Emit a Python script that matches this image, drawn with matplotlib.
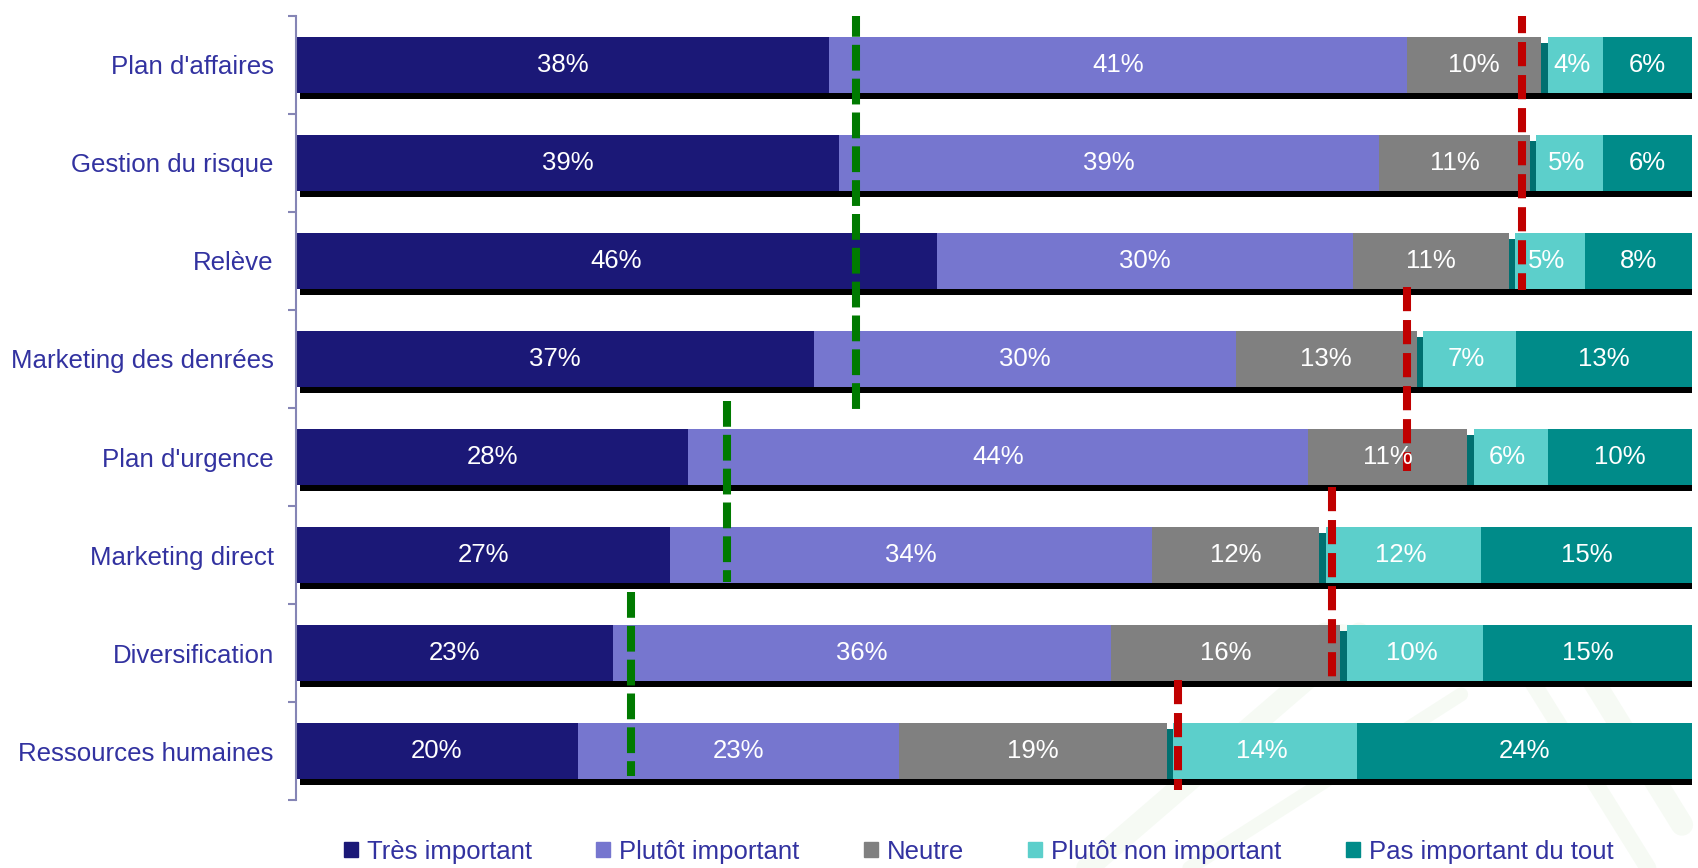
import numpy as np
import matplotlib
matplotlib.use('Agg')
import matplotlib.pyplot as plt
import matplotlib.transforms as mtransforms
from matplotlib.patches import Patch

plt.rcParams['font.family'] = ['Liberation Sans', 'DejaVu Sans']

categories = ["Plan d'affaires", "Gestion du risque", "Relève", "Marketing des denrées",
              "Plan d'urgence", "Marketing direct", "Diversification", "Ressources humaines"]
series = ["Très important", "Plutôt important", "Neutre", "Plutôt non important",
          "Pas important du tout"]

tres = [38.2, 38.9, 45.9, 37.1, 28.1, 26.8, 22.7, 20.2]
plutot = [41.4, 38.7, 29.8, 30.2, 44.4, 34.5, 35.7, 23.0]
neutre = [9.6, 10.8, 11.2, 13.0, 11.4, 12.0, 16.4, 19.2]
non_imp = [4.4, 5.2, 5.4, 7.1, 5.8, 11.6, 10.2, 13.6]
pas_imp = [6.4, 6.4, 7.7, 12.6, 10.3, 15.1, 15.0, 24.0]

# reference lines: x position and vertical span (in row units)
green_x = [40.1, 30.9, 24.0]
green_span = [(-0.55, 3.51), (3.43, 5.28), (5.38, 7.25)]
red_x = [87.8, 79.6, 74.2, 63.2]
red_span = [(-0.57, 2.30), (2.27, 4.14), (4.31, 6.24), (6.28, 7.40)]

colors = ['#1b1877', '#7676cf', '#808080', '#5ccfcb', '#008b89']
txt_blue = '#3232a0'

vals = np.array([tres, plutot, neutre, non_imp, pas_imp])
y = np.arange(len(categories))
h = 0.57

fig = plt.figure(figsize=(16.99, 8.68), dpi=100)

# faint logo in the background, bottom right
for xs, ys, lw in [([0.64, 0.80], [0.0, 0.27], 16), ([0.78, 0.93, 0.99], [0.27, 0.24, 0.05], 16),
                   ([0.70, 0.86], [0.0, 0.20], 10), ([0.90, 0.97], [0.22, 0.0], 12)]:
    fig.add_artist(plt.Line2D(xs, ys, transform=fig.transFigure, color='#9ccf8a',
                              alpha=0.09, lw=lw, solid_capstyle='round', zorder=0))

ax = fig.add_axes([0.1742, 0.0783, 0.8217, 0.9033])

# drop shadow behind each bar
shadow = mtransforms.offset_copy(ax.transData, fig=fig, x=4, y=-6, units='dots')
ax.barh(y, vals.sum(axis=0), height=h, color='black', transform=shadow, zorder=1)

left = np.zeros(len(categories))
for i, (name, c) in enumerate(zip(series, colors)):
    w = vals[i]
    if i == 3:
        # thin dark edge in front of the "plutôt non important" block
        ax.barh(y + 0.03, np.full(len(y), 0.45), left=left, height=h - 0.06,
                color='#007070', zorder=2)
        ax.barh(y, w - 0.45, left=left + 0.45, height=h, color=c, zorder=2, label=name)
    else:
        ax.barh(y, w, left=left, height=h, color=c, zorder=2, label=name)
    for yi, li, wi in zip(y, left, w):
        ax.text(li + wi / 2, yi, f'{wi:.0f}%', ha='center', va='center',
                color='white', fontsize=18.5, zorder=5)
    left += w

for x, (y0, y1) in zip(green_x, green_span):
    ax.plot([x, x], [y0, y1], color='#007a00', lw=5.8,
            dashes=(3.2, 1), zorder=4, solid_capstyle='butt')
for x, (y0, y1) in zip(red_x, red_span):
    ax.plot([x, x], [y0, y1], color='#c00000', lw=5.8,
            dashes=(3, 1.1), zorder=4, solid_capstyle='butt')

ax.set_xlim(0, 100)
ax.set_ylim(7.5, -0.5)
ax.set_xticks([])
for s in ['top', 'right', 'bottom']:
    ax.spines[s].set_visible(False)
ax.spines['left'].set_color('#8585b5')
ax.spines['left'].set_linewidth(1.5)
ax.set_yticks(np.arange(-0.5, 8, 1))
ax.set_yticklabels([])
ax.tick_params(axis='y', which='major', length=6, width=1.5, color='#8585b5')
ax.set_yticks(y, minor=True)
ax.set_yticklabels(categories, minor=True, fontsize=18.6, color=txt_blue)
ax.tick_params(axis='y', which='minor', length=0, pad=16)
ax.set_facecolor('none')

handles = [Patch(color=c, label=s) for s, c in zip(series, colors)]
leg = fig.legend(handles=handles, loc='center', bbox_to_anchor=(0.576, 0.019), ncol=5,
                 frameon=False, fontsize=18.5, handlelength=0.55, handleheight=0.55,
                 handletextpad=0.35, columnspacing=2.5)
for t in leg.get_texts():
    t.set_color(txt_blue)

fig.savefig('out.png', dpi=100)
